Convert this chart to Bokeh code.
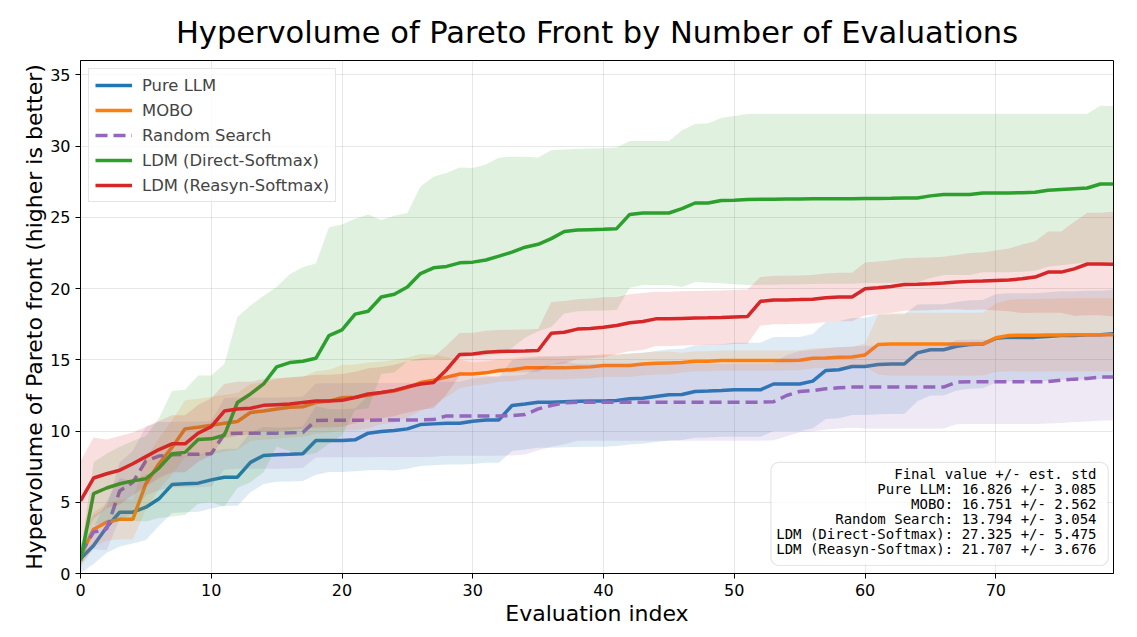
import numpy as np
from bokeh.plotting import figure
from bokeh.models import Legend, LegendItem, Range1d, BoxAnnotation, Label, FixedTicker
from bokeh.embed import file_html
from bokeh.resources import INLINE

x_idx = list(range(80))

names = ["Pure LLM", "MOBO", "Random Search", "LDM (Direct-Softmax)", "LDM (Reasyn-Softmax)"]

pure_llm_mean = [1.03, 1.96, 3.25, 4.3, 4.3, 4.65, 5.24, 6.24, 6.29, 6.34,
                 6.57, 6.76, 6.76, 7.8, 8.28, 8.33, 8.36, 8.4, 9.33, 9.33,
                 9.33, 9.38, 9.85, 9.96, 10.03, 10.15, 10.45, 10.5, 10.55, 10.55,
                 10.69, 10.78, 10.78, 11.79, 11.9, 12.02, 12.02, 12.06, 12.08, 12.1,
                 12.1, 12.14, 12.26, 12.3, 12.42, 12.54, 12.56, 12.77, 12.8, 12.84,
                 12.89, 12.89, 12.89, 13.3, 13.3, 13.3, 13.5, 14.25, 14.3, 14.53,
                 14.53, 14.67, 14.7, 14.7, 15.48, 15.7, 15.7, 15.95, 16.07, 16.1,
                 16.5, 16.57, 16.57, 16.57, 16.63, 16.7, 16.7, 16.75, 16.75, 16.826]
pure_llm_std = [1.0, 1.3, 1.8, 2.4, 2.2, 2.3, 1.9, 2.0, 2.0, 2.0,
                2.0, 2.0, 2.0, 2.1, 2.0, 1.9, 1.9, 1.9, 2.4, 2.2,
                2.2, 2.2, 2.6, 2.7, 2.8, 2.8, 2.9, 2.9, 2.9, 2.9,
                3.0, 3.0, 3.0, 3.2, 3.2, 3.2, 3.2, 3.2, 3.2, 3.2,
                3.2, 3.2, 3.2, 3.2, 3.2, 3.2, 3.2, 3.25, 3.25, 3.25,
                3.3, 3.3, 3.3, 3.3, 3.3, 3.3, 3.3, 3.4, 3.4, 3.4,
                3.4, 3.5, 3.5, 3.5, 3.4, 3.2, 3.2, 3.1, 3.1, 3.1,
                3.1, 3.1, 3.1, 3.1, 3.1, 3.1, 3.1, 3.1, 3.1, 3.085]

mobo_mean = [1.2, 3.1, 3.6, 3.8, 3.8, 6.3, 7.7, 8.85, 10.15, 10.27,
             10.4, 10.55, 10.67, 11.3, 11.4, 11.55, 11.67, 11.7, 12.0, 12.1,
             12.33, 12.37, 12.5, 12.68, 12.8, 13.05, 13.4, 13.57, 13.78, 14.0,
             14.0, 14.08, 14.25, 14.3, 14.43, 14.43, 14.43, 14.43, 14.48, 14.5,
             14.6, 14.6, 14.6, 14.7, 14.76, 14.78, 14.8, 14.9, 14.9, 14.95,
             14.95, 14.95, 14.95, 14.95, 14.95, 14.97, 15.1, 15.12, 15.17, 15.2,
             15.34, 16.07, 16.1, 16.1, 16.1, 16.1, 16.1, 16.1, 16.1, 16.1,
             16.54, 16.7, 16.72, 16.72, 16.73, 16.74, 16.75, 16.75, 16.75, 16.751]
mobo_std = [0.8, 1.2, 1.3, 1.4, 1.4, 1.8, 1.8, 1.9, 2.0, 2.0,
            2.0, 2.0, 2.0, 2.0, 2.0, 2.1, 2.1, 2.1, 2.2, 2.2,
            2.3, 2.3, 2.3, 2.2, 2.2, 2.1, 2.0, 1.8, 1.4, 1.0,
            0.8, 0.8, 0.8, 0.8, 0.8, 0.8, 0.8, 0.8, 0.8, 0.8,
            0.8, 0.8, 0.8, 0.8, 0.8, 0.8, 0.7, 0.7, 0.7, 0.7,
            0.7, 0.7, 0.7, 0.7, 0.7, 0.7, 0.7, 0.7, 0.7, 0.7,
            0.8, 2.1, 2.2, 2.2, 2.2, 2.2, 2.2, 2.2, 2.2, 2.2,
            2.4, 2.5, 2.55, 2.55, 2.55, 2.55, 2.56, 2.56, 2.56, 2.562]

random_mean = [1.4, 2.9, 3.13, 5.8, 6.4, 7.9, 8.24, 8.33, 8.36, 8.36,
               8.4, 9.8, 9.85, 9.85, 9.85, 9.85, 9.87, 9.9, 10.74, 10.75,
               10.75, 10.76, 10.76, 10.77, 10.77, 10.78, 10.78, 10.8, 11.06, 11.06,
               11.06, 11.06, 11.06, 11.08, 11.15, 11.55, 11.79, 11.97, 12.02, 12.02,
               12.02, 12.02, 12.02, 12.02, 12.02, 12.02, 12.02, 12.02, 12.02, 12.02,
               12.02, 12.02, 12.02, 12.05, 12.49, 12.77, 12.84, 12.96, 13.03, 13.08,
               13.08, 13.08, 13.08, 13.08, 13.08, 13.08, 13.08, 13.43, 13.45, 13.45,
               13.45, 13.45, 13.45, 13.45, 13.47, 13.57, 13.64, 13.69, 13.78, 13.794]
random_std = [0.8, 1.2, 1.5, 2.0, 2.2, 2.4, 2.4, 2.3, 2.3, 2.3,
              2.3, 2.5, 2.5, 2.5, 2.5, 2.5, 2.5, 2.5, 2.6, 2.6,
              2.6, 2.6, 2.6, 2.6, 2.6, 2.6, 2.6, 2.6, 2.8, 2.8,
              2.8, 2.8, 2.8, 2.8, 2.8, 2.9, 2.9, 2.9, 2.7, 2.7,
              2.7, 2.7, 2.7, 2.7, 2.7, 2.7, 2.7, 2.7, 2.7, 2.7,
              2.7, 2.7, 2.7, 2.7, 2.85, 2.85, 2.85, 2.85, 2.85, 2.85,
              2.9, 2.9, 2.9, 2.9, 2.9, 2.9, 2.9, 2.95, 2.95, 2.95,
              2.95, 2.95, 2.95, 2.95, 2.95, 3.0, 3.0, 3.02, 3.04, 3.054]

direct_mean = [0.9, 5.6, 6.0, 6.3, 6.5, 6.65, 7.4, 8.4, 8.5, 9.4,
               9.45, 9.7, 12.0, 12.6, 13.3, 14.5, 14.8, 14.9, 15.1, 16.7,
               17.1, 18.2, 18.4, 19.4, 19.6, 20.1, 21.05, 21.45, 21.55, 21.8,
               21.85, 22.0, 22.27, 22.55, 22.9, 23.1, 23.5, 24.0, 24.1, 24.13,
               24.15, 24.2, 25.2, 25.3, 25.3, 25.3, 25.6, 26.0, 26.0, 26.17,
               26.2, 26.25, 26.27, 26.27, 26.28, 26.28, 26.29, 26.3, 26.3, 26.3,
               26.32, 26.32, 26.33, 26.35, 26.35, 26.5, 26.6, 26.6, 26.6, 26.7,
               26.7, 26.7, 26.72, 26.75, 26.9, 26.95, 27.0, 27.05, 27.33, 27.325]
direct_std = [0.5, 2.2, 2.4, 2.6, 2.8, 3.0, 3.5, 4.4, 4.4, 4.5,
              4.45, 5.0, 6.0, 6.2, 6.2, 5.6, 6.2, 6.6, 6.65, 7.6,
              7.4, 6.7, 6.8, 5.4, 5.5, 5.2, 6.1, 6.4, 6.55, 6.7,
              6.6, 6.7, 6.9, 6.7, 6.35, 6.1, 6.2, 5.75, 5.7, 5.7,
              5.7, 5.7, 5.15, 5.05, 5.05, 5.05, 5.5, 5.55, 5.6, 5.8,
              5.9, 6.0, 6.0, 6.0, 5.98, 5.98, 5.97, 5.96, 5.96, 5.96,
              5.94, 5.94, 5.93, 5.91, 5.91, 5.76, 5.66, 5.66, 5.66, 5.56,
              5.56, 5.56, 5.54, 5.51, 5.36, 5.31, 5.26, 5.21, 5.5, 5.475]

reasyn_mean = [5.1, 6.7, 7.0, 7.25, 7.7, 8.2, 8.7, 9.1, 9.1, 9.85,
               10.3, 11.4, 11.55, 11.6, 11.8, 11.85, 11.9, 12.0, 12.1, 12.1,
               12.15, 12.35, 12.6, 12.7, 12.85, 13.1, 13.3, 13.4, 14.3, 15.37,
               15.4, 15.53, 15.58, 15.6, 15.62, 15.65, 16.86, 16.93, 17.15, 17.2,
               17.28, 17.4, 17.6, 17.68, 17.87, 17.87, 17.9, 17.93, 17.94, 17.96,
               18.0, 18.03, 19.1, 19.2, 19.2, 19.22, 19.25, 19.35, 19.4, 19.4,
               19.98, 20.05, 20.14, 20.28, 20.3, 20.33, 20.38, 20.45, 20.5, 20.52,
               20.56, 20.6, 20.68, 20.8, 21.15, 21.15, 21.38, 21.72, 21.72, 21.707]
reasyn_std = [2.8, 2.85, 2.4, 2.4, 2.2, 2.1, 2.0, 2.0, 2.0, 2.0,
              2.0, 1.9, 1.9, 1.85, 1.85, 1.85, 1.85, 1.85, 1.85, 1.85,
              1.85, 1.8, 1.8, 1.8, 1.8, 1.8, 1.8, 1.8, 1.7, 1.5,
              1.5, 1.5, 1.5, 1.5, 1.5, 1.5, 2.2, 2.2, 2.1, 2.1,
              2.1, 2.0, 2.0, 2.0, 1.9, 1.9, 1.9, 1.9, 1.9, 1.9,
              1.9, 1.9, 1.7, 1.7, 1.7, 1.7, 1.7, 1.7, 1.7, 1.7,
              1.85, 1.85, 1.85, 1.85, 1.85, 1.85, 1.85, 1.9, 2.0, 2.0,
              2.1, 2.2, 2.4, 2.5, 2.85, 2.85, 3.3, 3.6, 3.6, 3.676]

final_means = ["16.826", "16.751", "13.794", "27.325", "21.707"]
final_stds = ["3.085", "2.562", "3.054", "5.475", "3.676"]

x_ticks = [0, 10, 20, 30, 40, 50, 60, 70]
y_ticks = [0, 5, 10, 15, 20, 25, 30, 35]

colors = ["#1f77b4", "#ff7f0e", "#9467bd", "#2ca02c", "#d62728"]
dashes = ["solid", "solid", "12 6", "solid", "solid"]
means = [pure_llm_mean, mobo_mean, random_mean, direct_mean, reasyn_mean]
stds = [pure_llm_std, mobo_std, random_std, direct_std, reasyn_std]

FONT = "DejaVu Sans"
MONO = "DejaVu Sans Mono"

p = figure(width=1120, height=630, output_backend="svg", toolbar_location=None,
           x_range=Range1d(0, 79), y_range=Range1d(0, 36),
           title="Hypervolume of Pareto Front by Number of Evaluations",
           min_border_left=80, min_border_right=7, min_border_top=60, min_border_bottom=57)

p.title.text_font = FONT
p.title.text_font_size = "30.5px"
p.title.text_font_style = "normal"
p.title.align = "center"
p.title.text_color = "black"
p.title.standoff = 22

p.outline_line_color = "black"
p.outline_line_width = 1
p.outline_line_alpha = 1

for ax in (p.xaxis[0], p.yaxis[0]):
    ax.axis_label_text_font = FONT
    ax.axis_label_text_font_size = "22px"
    ax.axis_label_text_font_style = "normal"
    ax.axis_label_text_color = "black"
    ax.major_label_text_font = FONT
    ax.major_label_text_font_size = "16px"
    ax.major_label_text_color = "black"
    ax.axis_line_color = "black"
    ax.major_tick_line_color = "black"
    ax.major_tick_out = 5
    ax.major_tick_in = 0
    ax.minor_tick_line_color = None

p.xaxis.axis_label_standoff = 2
p.yaxis.axis_label_standoff = 0
p.xaxis.axis_label = "Evaluation index"
p.yaxis.axis_label = "Hypervolume of Pareto front (higher is better)"
p.xaxis.ticker = FixedTicker(ticks=x_ticks)
p.yaxis.ticker = FixedTicker(ticks=y_ticks)
p.xgrid.ticker = FixedTicker(ticks=x_ticks)
p.ygrid.ticker = FixedTicker(ticks=y_ticks)
p.grid.grid_line_color = "#b0b0b0"
p.grid.grid_line_alpha = 0.3

items = []
for name, col, dash, m, s in zip(names, colors, dashes, means, stds):
    m_arr = np.array(m)
    s_arr = np.array(s)
    p.varea(x=x_idx, y1=m_arr - s_arr, y2=m_arr + s_arr, fill_color=col, fill_alpha=0.15)
    r = p.line(x=x_idx, y=m, line_color=col, line_width=3.5, line_dash=dash)
    items.append(LegendItem(label=name, renderers=[r]))

legend = Legend(items=items, location="top_left")
legend.label_text_font = FONT
legend.label_text_font_size = "16.4px"
legend.glyph_width = 37
legend.glyph_height = 20
legend.label_height = 20
legend.label_standoff = 10
legend.spacing = 5
legend.padding = 6
legend.margin = 8
legend.border_line_color = "#cccccc"
legend.border_line_width = 1
legend.background_fill_alpha = 0.8
p.add_layout(legend)

# summary box (bottom-right), positioned in data units of the fixed ranges
box = BoxAnnotation(left=52.8, right=78.6, bottom=0.56, top=7.8,
                    fill_color="white", fill_alpha=0.8,
                    line_color="#aaaaaa", line_width=1.2, border_radius=8)
p.add_layout(box)

lines = ["Final value +/- est. std"] + [f"{n}: {fm} +/- {fs}" for n, fm, fs in zip(names, final_means, final_stds)]
line_y0 = 7.0
line_dy = 1.06
for i, t in enumerate(lines):
    p.add_layout(Label(x=77.7, y=line_y0 - i * line_dy, text=t, text_align="right",
                       text_baseline="middle", text_font=MONO, text_font_size="14px",
                       text_color="black"))

open("out.html", "w").write(file_html(p, INLINE))
